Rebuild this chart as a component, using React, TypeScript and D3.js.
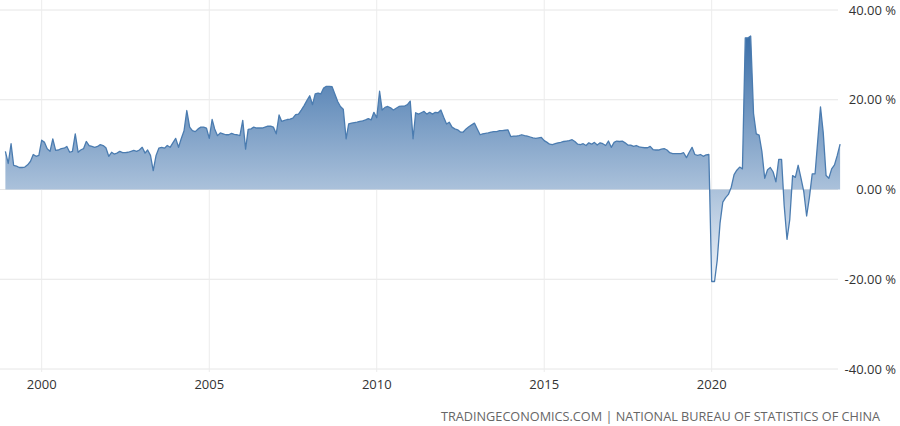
import React from "react";
import { select, scaleTime, scaleLinear, area, line, curveLinear } from "d3";

// monthly retail sales yoy (%), first point Dec 1998, last Nov 2023
const firstMonth = new Date(1998, 11, 1);
const retailYoY: number[] = [
  8.5,
  // 1999
  5.8, 10.2, 5.4, 5.2, 4.9, 4.9, 5.0, 5.5, 6.3, 7.8, 7.4, 7.6,
  // 2000
  11.0, 10.5, 9.1, 8.5, 11.3, 8.7, 8.8, 9.1, 9.2, 9.6, 8.3, 8.5,
  // 2001
  12.4, 8.3, 8.8, 9.1, 10.7, 9.8, 9.6, 9.4, 9.6, 10.0, 9.8, 9.3,
  // 2002
  7.4, 8.3, 7.9, 8.1, 8.5, 8.2, 8.2, 8.3, 8.5, 8.7, 8.5, 8.8,
  // 2003
  9.4, 8.1, 8.8, 7.6, 4.2, 7.6, 9.2, 9.4, 9.2, 9.8, 9.4, 10.4,
  // 2004
  11.4, 9.4, 11.3, 13.1, 17.6, 13.9, 13.1, 12.9, 13.5, 13.9, 13.9, 13.7,
  // 2005
  11.4, 15.6, 13.5, 12.0, 12.6, 12.4, 12.2, 12.2, 12.5, 12.3, 12.2, 12.0,
  // 2006
  15.4, 9.0, 13.4, 13.5, 13.9, 13.7, 13.7, 13.7, 13.9, 14.1, 14.1, 13.9,
  // 2007
  12.4, 16.6, 15.2, 15.4, 15.6, 15.7, 15.9, 16.7, 16.8, 17.7, 18.7, 19.8,
  // 2008
  20.9, 18.9, 21.3, 21.5, 21.3, 22.6, 23.0, 23.0, 22.9, 21.3, 19.6, 18.5,
  // 2009
  17.9, 11.3, 14.6, 14.8, 14.9, 15.0, 15.2, 15.3, 15.5, 15.8, 15.5, 17.2,
  // 2010
  16.0, 21.9, 17.7, 18.3, 18.5, 18.2, 17.7, 18.1, 18.5, 18.6, 18.6, 18.9,
  // 2011
  19.7, 11.3, 17.1, 16.8, 17.1, 17.4, 16.8, 17.2, 16.8, 17.2, 17.1, 17.7,
  // 2012
  16.1, 14.6, 15.0, 13.9, 13.5, 13.3, 12.8, 12.8, 13.5, 14.0, 14.4, 14.8,
  // 2013
  13.5, 12.2, 12.4, 12.5, 12.6, 12.8, 12.9, 12.9, 13.1, 13.1, 13.2, 13.3,
  // 2014
  11.8, 11.9, 11.9, 12.0, 12.2, 12.0, 11.9, 11.7, 11.5, 11.4, 11.5, 11.6,
  // 2015
  10.9, 10.5, 10.1, 10.0, 10.2, 10.4, 10.5, 10.7, 10.8, 10.9, 11.1, 10.7,
  // 2016
  10.1, 10.0, 10.2, 9.8, 10.4, 10.1, 10.5, 9.9, 10.4, 10.2, 9.8, 10.8,
  // 2017
  9.4, 10.5, 10.8, 10.7, 10.8, 10.4, 9.9, 9.9, 9.6, 9.8, 9.5, 9.4,
  // 2018
  9.3, 9.3, 9.6, 8.9, 8.8, 8.8, 9.0, 9.1, 8.8, 8.2, 8.0, 8.0,
  // 2019
  8.0, 8.0, 8.2, 7.1, 8.3, 9.4, 7.8, 7.6, 7.8, 7.4, 7.7, 7.8,
  // 2020
  -20.5, -20.5, -15.8, -7.5, -2.8, -1.8, -1.1, 0.5, 3.3, 4.3, 5.0, 4.6,
  // 2021
  33.8, 33.8, 34.2, 17.0, 12.4, 12.1, 8.5, 2.5, 4.4, 4.9, 3.9, 1.7,
  // 2022
  6.7, 6.7, -3.5, -11.1, -6.7, 3.1, 2.7, 5.4, 2.5, -0.5, -5.9, -1.8,
  // 2023
  3.5, 3.5, 10.6, 18.4, 12.7, 3.1, 2.5, 4.6, 5.5, 7.6, 10.1,
];

const xTickYears = [2000, 2005, 2010, 2015, 2020];
const yTicks = [40, 20, 0, -20, -40];
const sourceText = "TRADINGECONOMICS.COM | NATIONAL BUREAU OF STATISTICS OF CHINA";

const W = 900;
const H = 426;
const FONT = "'Open Sans', sans-serif";

export default function App() {
  const svgRef = React.useRef<SVGSVGElement>(null);

  React.useLayoutEffect(() => {
    const svg = select(svgRef.current);

    const points = retailYoY.map((v, i) => ({
      date: new Date(firstMonth.getFullYear(), firstMonth.getMonth() + i, 1),
      value: v,
    }));

    const x = scaleTime()
      .domain([new Date(2000, 0, 1), new Date(2020, 0, 1)])
      .range([41.7, 711.7]);
    const y = scaleLinear().domain([-40, 40]).range([369, 10]);

    const defs = svg.append("defs");
    const grad = defs
      .append("linearGradient")
      .attr("id", "areaFill")
      .attr("gradientUnits", "userSpaceOnUse")
      .attr("x1", 0)
      .attr("x2", 0)
      .attr("y1", y(34.2))
      .attr("y2", y(-20.5));
    grad.append("stop").attr("offset", 0).attr("stop-color", "#3a6ea8");
    grad.append("stop").attr("offset", 1).attr("stop-color", "#eef3f9");

    // grid
    const grid = svg.append("g");
    grid
      .selectAll("line.h")
      .data(yTicks)
      .join("line")
      .attr("class", "h")
      .attr("x1", 0)
      .attr("x2", 838)
      .attr("y1", (d) => y(d))
      .attr("y2", (d) => y(d))
      .attr("stroke", "#e6e6e6");
    grid
      .selectAll("line.v")
      .data(xTickYears)
      .join("line")
      .attr("class", "v")
      .attr("x1", (d) => x(new Date(d, 0, 1)))
      .attr("x2", (d) => x(new Date(d, 0, 1)))
      .attr("y1", 0)
      .attr("y2", 372)
      .attr("stroke", "#ececec");

    const areaGen = area<{ date: Date; value: number }>()
      .x((d) => x(d.date))
      .y0(y(0))
      .y1((d) => y(d.value))
      .curve(curveLinear);
    const lineGen = line<{ date: Date; value: number }>()
      .x((d) => x(d.date))
      .y((d) => y(d.value))
      .curve(curveLinear);

    svg
      .append("path")
      .datum(points)
      .attr("d", areaGen)
      .attr("fill", "url(#areaFill)");

    svg
      .append("path")
      .datum(points)
      .attr("d", lineGen)
      .attr("fill", "none")
      .attr("stroke", "#4b7cb0")
      .attr("stroke-width", 1.3)
      .attr("stroke-linejoin", "round");

    // y labels on the right
    svg
      .append("g")
      .selectAll("text")
      .data(yTicks)
      .join("text")
      .attr("x", 896)
      .attr("y", (d) => y(d))
      .attr("dy", "0.35em")
      .attr("text-anchor", "end")
      .attr("font-family", FONT)
      .attr("font-size", 13)
      .attr("fill", "#333")
      .text((d) => `${d.toFixed(2)} %`);

    // x labels
    svg
      .append("g")
      .selectAll("text")
      .data(xTickYears)
      .join("text")
      .attr("x", (d) => x(new Date(d, 0, 1)))
      .attr("y", 389)
      .attr("text-anchor", "middle")
      .attr("font-family", FONT)
      .attr("font-size", 13)
      .attr("fill", "#333")
      .text((d) => String(d));

    svg
      .append("text")
      .attr("x", 441)
      .attr("y", 421)
      .attr("font-family", FONT)
      .attr("font-size", 13)
      .attr("fill", "#666")
      .attr("textLength", 439)
      .attr("lengthAdjust", "spacingAndGlyphs")
      .text(sourceText);

    return () => {
      svg.selectAll("*").remove();
    };
  }, []);

  return (
    <svg
      ref={svgRef}
      width={W}
      height={H}
      style={{ position: "absolute", left: 0, top: 0, background: "#fff" }}
    />
  );
}
